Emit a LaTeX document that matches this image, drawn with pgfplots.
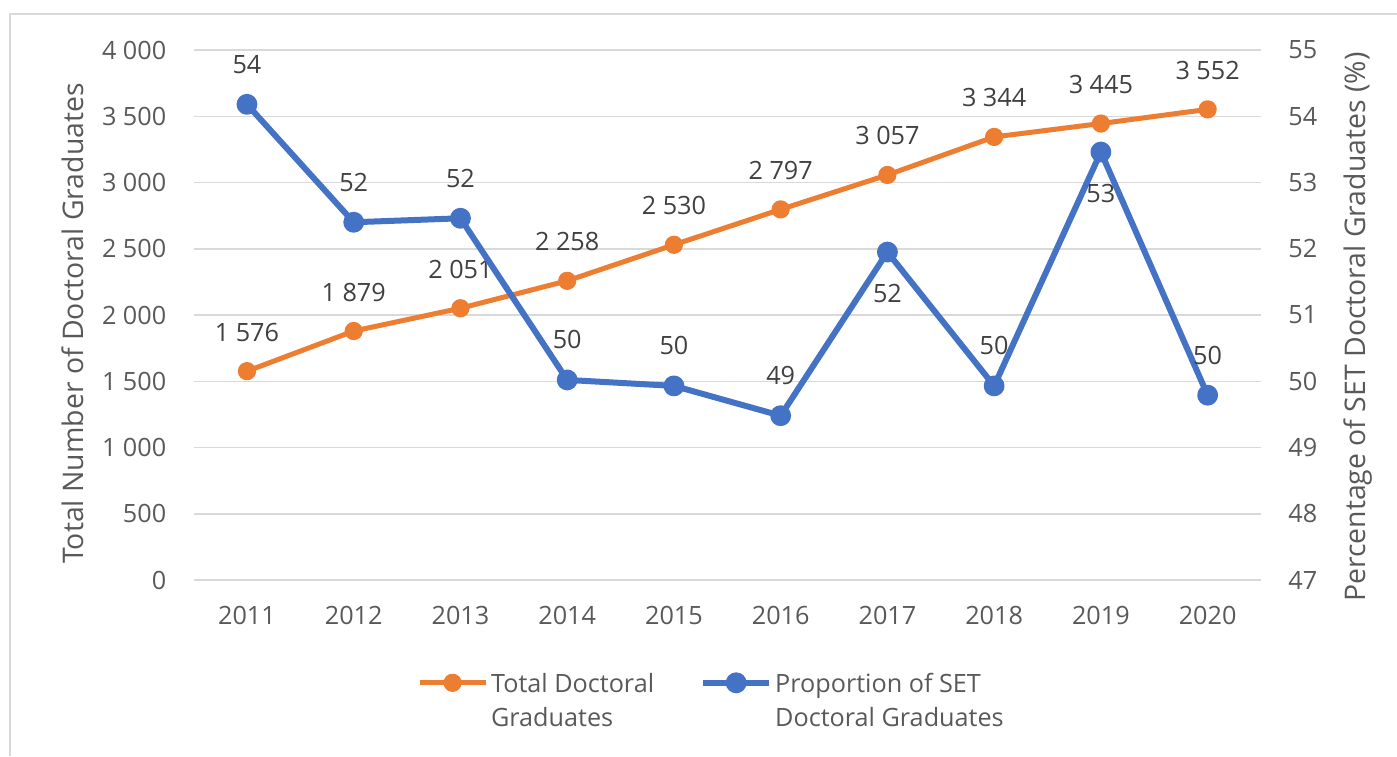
\documentclass[border=0pt]{standalone}
\usepackage{pgfplots}
\pgfplotsset{compat=1.18}
\usepackage{pgfplotstable}
\usepackage{fontspec}
\setmainfont{Open Sans}
\definecolor{txt}{HTML}{595959}
\definecolor{lbl}{HTML}{404040}
\definecolor{grd}{HTML}{D9D9D9}
\definecolor{org}{HTML}{ED7D31}
\definecolor{blu}{HTML}{4472C4}

\pgfplotstableread{
x tot lab
0 1576 1~576
1 1879 1~879
2 2051 2~051
3 2258 2~258
4 2530 2~530
5 2797 2~797
6 3057 3~057
7 3344 3~344
8 3445 3~445
9 3552 3~552
}\tottab

\pgfplotstableread{
x pct lab dy
0 54.18 54 20
1 52.40 52 20
2 52.46 52 20
3 50.02 50 20
4 49.93 50 20
5 49.48 49 20
6 51.95 52 -20.5
7 49.93 50 20
8 53.46 53 -20.5
9 49.79 50 20
}\pcttab

\pgfplotsset{
  common/.style={
    at={(96.8pt,88pt)}, anchor=south west,
    scale only axis, width=533.7pt, height=265pt,
    xmin=-0.5, xmax=9.5,
    clip=false,
    axis line style={draw=none},
    tick style={draw=none},
    tick label style={text=txt},
    /pgf/number format/assume math mode=true,
  },
  legend image code/.code={%
    \draw[mark repeat=2, mark phase=2, #1] plot coordinates {(0pt,4.6pt) (16.5pt,4.6pt) (33pt,4.6pt)};%
  },
}

\begin{document}
\begin{tikzpicture}[font=\fontsize{12.6pt}{17pt}\selectfont]
\path[use as bounding box] (0pt,0pt) rectangle (698.5pt,378pt);
\draw[grd, line width=0.8pt] (5pt,0pt) -- (5pt,371pt) -- (698.5pt,371pt);

\begin{axis}[common,
  axis x line*=bottom, axis y line*=left,
  ymin=0, ymax=4000,
  xtick={0,...,9},
  xticklabels={2011,2012,2013,2014,2015,2016,2017,2018,2019,2020},
  xticklabel style={anchor=north, inner sep=0pt, yshift=-13pt},
  ytick={0,500,...,4000},
  yticklabels={0,500,1~000,1~500,2~000,2~500,3~000,3~500,4~000},
  yticklabel style={anchor=east, inner sep=0pt, xshift=-13.5pt},
  ymajorgrids,
  major grid style={grd, line width=0.75pt},
  ylabel={Total Number of Doctoral Graduates},
  every axis y label/.style={at={(axis description cs:-0.113,0.484)}, rotate=90, anchor=center, text=txt, font=\fontsize{14.2pt}{17pt}\selectfont},
  legend columns=2,
  legend style={draw=none, fill=none, inner sep=0pt,
    at={(axis description cs:0.209,-0.16)}, anchor=north west,
    nodes={inner sep=1.5pt, anchor=base west, text=txt},
    /tikz/every even column/.append style={column sep=21.5pt}},
]
\addplot[org, line width=2.5pt, line join=round, mark=*, mark size=3.3pt,
  mark options={solid, fill=org, draw=org},
  nodes near coords, point meta=explicit symbolic,
  nodes near coords style={anchor=center, yshift=19.5pt, text=lbl}]
  table[x=x, y=tot, meta=lab] {\tottab};
\addlegendentry{\begin{tabular}[t]{@{}l@{}}Total Doctoral\\Graduates\end{tabular}}
\addlegendimage{blu, line width=3pt, mark=*, mark size=3.7pt, mark options={solid, fill=blu, draw=blu}}
\addlegendentry{\begin{tabular}[t]{@{}l@{}}Proportion of SET\\Doctoral Graduates\end{tabular}}
\end{axis}

\begin{axis}[common,
  axis x line=none, axis y line*=right,
  ymin=47, ymax=55,
  ytick={47,...,55},
  yticklabel style={anchor=west, inner sep=0pt, xshift=13.5pt},
  ylabel={Percentage of SET Doctoral Graduates (\%)},
  every axis y label/.style={at={(axis description cs:1.091,0.477)}, rotate=90, anchor=center, text=txt, font=\fontsize{14.2pt}{17pt}\selectfont},
]
\addplot[blu, line width=3pt, line join=round, mark=*, mark size=3.7pt,
  mark options={solid, fill=blu, draw=blu},
  visualization depends on={\thisrow{dy} \as \dy},
  nodes near coords, point meta=explicit symbolic,
  nodes near coords style={anchor=center, yshift=\dy pt, text=lbl}]
  table[x=x, y=pct, meta=lab] {\pcttab};
\end{axis}
\end{tikzpicture}
\end{document}
